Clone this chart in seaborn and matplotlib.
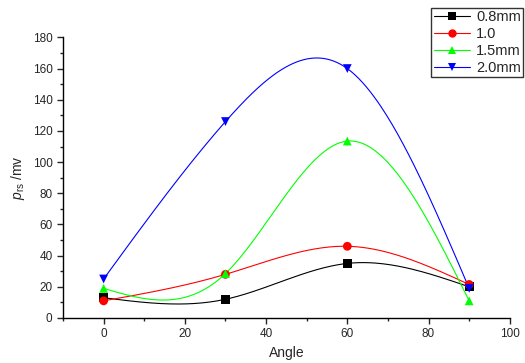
import numpy as np
import pandas as pd
import matplotlib
matplotlib.use('Agg')
import matplotlib.pyplot as plt
import seaborn as sns
from matplotlib.lines import Line2D
from matplotlib.ticker import MultipleLocator

# Veriler
angles = [0, 30, 60, 90]
series_names = ['0.8mm', '1.0', '1.5mm', '2.0mm']
v_08 = [13, 12, 35, 20]
v_10 = [11, 28, 46, 21.5]
v_15 = [19, 28.5, 113.5, 11]
v_20 = [25, 126, 160, 19]

colors = ['#000000', '#ff0000', '#00ff00', '#0000ff']
markers = ['s', 'o', '^', 'v']


def natural_spline(x, y, n=200):
    """Doğal kübik spline (Origin tarzı düzgün eğri)"""
    x = np.asarray(x, float)
    y = np.asarray(y, float)
    k = len(x)
    h = np.diff(x)
    A = np.zeros((k, k))
    b = np.zeros(k)
    A[0, 0] = 1
    A[-1, -1] = 1
    for i in range(1, k - 1):
        A[i, i - 1] = h[i - 1]
        A[i, i] = 2 * (h[i - 1] + h[i])
        A[i, i + 1] = h[i]
        b[i] = 6 * ((y[i + 1] - y[i]) / h[i] - (y[i] - y[i - 1]) / h[i - 1])
    M = np.linalg.solve(A, b)
    xs = np.linspace(x[0], x[-1], n)
    ys = np.empty_like(xs)
    for j, t in enumerate(xs):
        i = min(np.searchsorted(x, t, side='right') - 1, k - 2)
        a, c = x[i], x[i + 1]
        hi = c - a
        ys[j] = (M[i] * (c - t) ** 3 / (6 * hi) + M[i + 1] * (t - a) ** 3 / (6 * hi)
                 + (y[i] / hi - M[i] * hi / 6) * (c - t)
                 + (y[i + 1] / hi - M[i + 1] * hi / 6) * (t - a))
    return xs, ys


sns.set_style('ticks')
plt.rcParams['font.family'] = ['Liberation Sans', 'DejaVu Sans']
plt.rcParams['mathtext.fontset'] = 'custom'
plt.rcParams['mathtext.it'] = 'Liberation Sans:italic'
plt.rcParams['mathtext.rm'] = 'Liberation Sans'

fig = plt.figure(figsize=(5.25, 3.63), dpi=100)
ax = fig.add_axes([0.12, 0.124, 0.851, 0.773])

all_vals = [v_08, v_10, v_15, v_20]
handles = []
for name, vals, col, mk in zip(series_names, all_vals, colors, markers):
    xs, ys = natural_spline(angles, vals)
    sns.lineplot(x=xs, y=ys, ax=ax, color=col, linewidth=0.8, sort=False)
    df = pd.DataFrame({'angle': angles, 'val': vals})
    sns.scatterplot(data=df, x='angle', y='val', ax=ax, color=col, marker=mk,
                    s=40, edgecolor='none', zorder=3)
    handles.append(Line2D([], [], color=col, lw=0.8, marker=mk, markersize=6,
                          markeredgewidth=0, label=name))

ax.set_xlim(-10, 100)
ax.set_ylim(0, 180)
ax.xaxis.set_major_locator(MultipleLocator(20))
ax.xaxis.set_minor_locator(MultipleLocator(10))
ax.yaxis.set_major_locator(MultipleLocator(20))
ax.yaxis.set_minor_locator(MultipleLocator(10))
ax.tick_params(which='major', direction='out', length=4, width=1, labelsize=8.5)
ax.tick_params(which='minor', direction='out', length=2.5, width=1)
for s in ['top', 'right']:
    ax.spines[s].set_visible(False)
for s in ['left', 'bottom']:
    ax.spines[s].set_linewidth(1)
    ax.spines[s].set_color('black')

ax.set_xlabel('Angle', fontsize=10)
ax.set_ylabel(r'$p_{\rm rs}$ /mv', fontsize=10)

leg = fig.legend(handles=handles, loc='upper right',
                 bbox_to_anchor=(523 / 525, 1 - 8 / 363), bbox_transform=fig.transFigure,
                 fontsize=10.5, frameon=True, fancybox=False, handlelength=2.5,
                 borderpad=0.15, labelspacing=0.2, handletextpad=0.4, borderaxespad=0)
leg.get_frame().set_edgecolor('black')
leg.get_frame().set_linewidth(1)

fig.savefig('out.png', dpi=100)
